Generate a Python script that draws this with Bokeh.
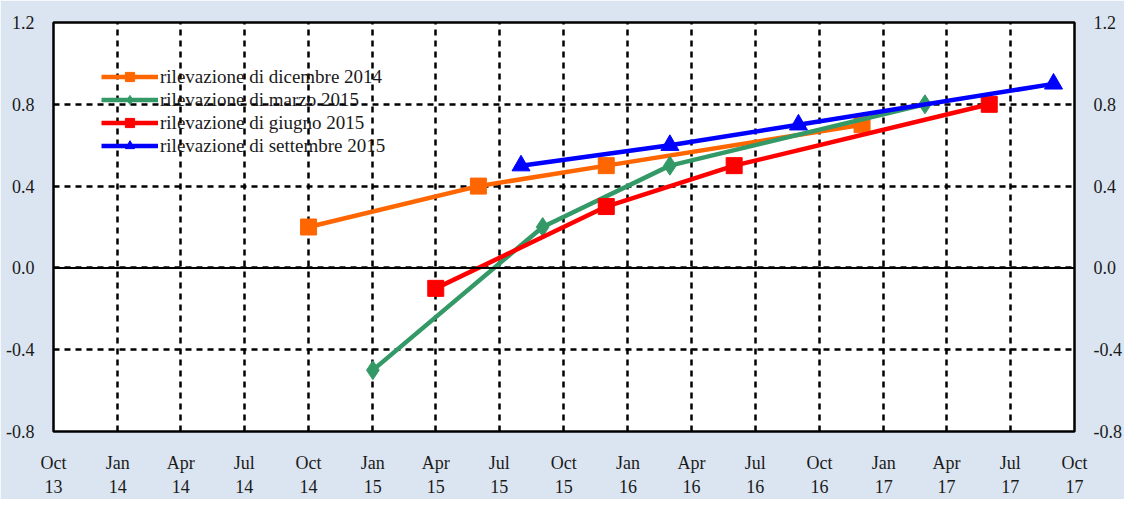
import pandas as pd
from bokeh.plotting import figure
from bokeh.models import (LinearAxis, Range1d, FixedTicker, Span, Legend,
                          LegendItem, NumeralTickFormatter)
from bokeh.embed import file_html
from bokeh.resources import INLINE

# ---- data ----
series_labels = ["rilevazione di dicembre 2014", "rilevazione di marzo 2015",
                 "rilevazione di giugno 2015", "rilevazione di settembre 2015"]
dic14_dates = ["2014-10-01", "2015-06-01", "2015-12-01", "2016-12-01"]
dic14_vals = [0.2, 0.4, 0.5, 0.7]
mar15_dates = ["2015-01-01", "2015-09-01", "2016-03-01", "2017-03-01"]
mar15_vals = [-0.5, 0.2, 0.5, 0.8]
giu15_dates = ["2015-04-01", "2015-12-01", "2016-06-01", "2017-06-01"]
giu15_vals = [-0.1, 0.3, 0.5, 0.8]
set15_dates = ["2015-08-01", "2016-03-01", "2016-09-01", "2017-09-01"]
set15_vals = [0.5, 0.6, 0.7, 0.9]

x_tick_dates = ["2013-10-01", "2014-01-01", "2014-04-01", "2014-07-01",
                "2014-10-01", "2015-01-01", "2015-04-01", "2015-07-01",
                "2015-10-01", "2016-01-01", "2016-04-01", "2016-07-01",
                "2016-10-01", "2017-01-01", "2017-04-01", "2017-07-01",
                "2017-10-01"]
x_tick_labels = ["Oct\n13", "Jan\n14", "Apr\n14", "Jul\n14", "Oct\n14",
                 "Jan\n15", "Apr\n15", "Jul\n15", "Oct\n15", "Jan\n16",
                 "Apr\n16", "Jul\n16", "Oct\n16", "Jan\n17", "Apr\n17",
                 "Jul\n17", "Oct\n17"]
y_ticks = [-0.8, -0.4, 0.0, 0.4, 0.8, 1.2]


def ms(d):
    return float(pd.Timestamp(d).value // 10**6)


FONT = "Liberation Serif"
BG = "#dbe5f1"
TXT = "#1a1a1a"

xt = [ms(d) for d in x_tick_dates]

p = figure(width=1124, height=499, output_backend="svg", toolbar_location=None,
           x_axis_type="datetime",
           x_range=Range1d(xt[0], xt[-1]), y_range=Range1d(-0.8, 1.2),
           background_fill_color="white", border_fill_color=BG,
           min_border_left=53, min_border_right=46, min_border_top=22,
           min_border_bottom=61)
p.outline_line_color = "black"
p.outline_line_width = 2.5

# axes
p.xaxis.ticker = FixedTicker(ticks=xt)
p.xaxis.major_label_overrides = {t: l for t, l in zip(xt, x_tick_labels)}
p.yaxis.ticker = FixedTicker(ticks=y_ticks)
p.yaxis.formatter = NumeralTickFormatter(format="0.0")

right = LinearAxis(y_range_name="default", ticker=FixedTicker(ticks=y_ticks),
                   formatter=NumeralTickFormatter(format="0.0"))
p.add_layout(right, "right")

for ax in p.xaxis + p.yaxis:
    ax.axis_line_color = None
    ax.major_tick_line_color = None
    ax.minor_tick_line_color = None
    ax.major_label_text_font = FONT
    ax.major_label_text_font_size = "18px"
    ax.major_label_text_color = TXT
p.xaxis.major_label_standoff = 15
p.yaxis[0].major_label_standoff = 13
right.major_label_standoff = 13

# grids
for g in (p.xgrid, p.ygrid):
    g.grid_line_color = "black"
    g.grid_line_width = 2.5
    g.grid_line_dash = "6 5"
p.xgrid.ticker = FixedTicker(ticks=xt)
p.ygrid.ticker = FixedTicker(ticks=y_ticks)

p.add_layout(Span(location=0, dimension="width", line_color="black",
                  line_width=2))

# series
specs = [
    (dic14_dates, dic14_vals, "#ff6600", "square", 16),
    (mar15_dates, mar15_vals, "#339966", "diamond", 19),
    (giu15_dates, giu15_vals, "#ff0000", "square", 16),
    (set15_dates, set15_vals, "#0000ff", "triangle", 18),
]
items = []
for label, (dates, vals, color, marker, size) in zip(series_labels, specs):
    xs = [ms(d) for d in dates]
    l = p.line(xs, vals, line_color=color, line_width=4.5)
    s = p.scatter(xs, vals, marker=marker, size=size, fill_color=color,
                  line_color=color)
    items.append(LegendItem(label=label, renderers=[l, s]))

legend = Legend(items=items, location=(48, 274))
legend.background_fill_alpha = 0
legend.border_line_color = None
legend.label_text_font = FONT
legend.label_text_font_size = "19px"
legend.label_text_color = TXT
legend.glyph_width = 57
legend.glyph_height = 23
legend.label_height = 23
legend.spacing = 0
legend.padding = 0
legend.margin = 0
legend.label_standoff = 2
p.add_layout(legend, "center")

open("out.html", "w").write(file_html(p, INLINE))
